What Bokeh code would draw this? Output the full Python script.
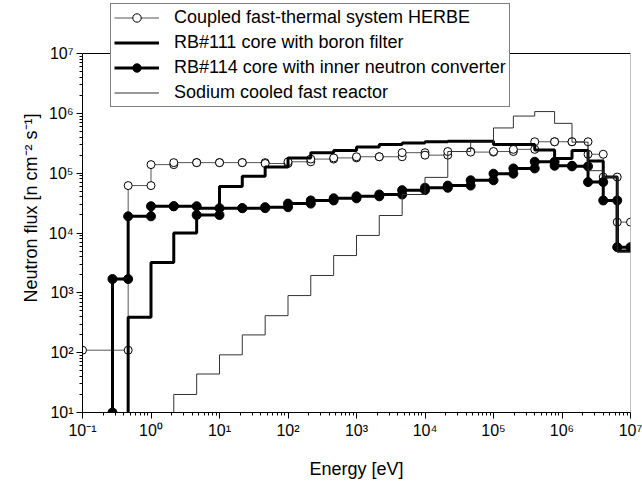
import numpy as np
from bokeh.plotting import figure
from bokeh.models import (Range1d, FixedTicker, CustomJSTickFormatter, Legend,
                          LegendItem, Span)
from bokeh.embed import file_html
from bokeh.resources import INLINE

# ---------------- data ----------------
x_major_ticks = [0.1, 1, 10, 100, 1e3, 1e4, 1e5, 1e6, 1e7]
y_major_ticks = [10, 100, 1e3, 1e4, 1e5, 1e6, 1e7]
x_lim = (0.1, 1e7)
y_lim = (10, 1e7)

# Coupled fast-thermal system HERBE (group edges [eV], group flux)
herbe_edges = [0.1, 0.464, 1, 2.15, 4.64, 10, 21.5, 46.4, 100, 215, 464, 1000,
               2150, 4640, 1e4, 2.15e4, 4.64e4, 1e5, 1.95e5, 4e5, 7.8e5, 1.4e6,
               2.4e6, 4e6, 6.4e6, 1e7]
herbe_flux = [110, 6.2e4, 1.39e5, 1.5e5, 1.5e5, 1.5e5, 1.5e5, 1.45e5, 1.55e5,
              1.72e5, 1.8e5, 1.88e5, 1.88e5, 2.2e5, 2.0e5, 2.3e5, 2.25e5, 2.3e5,
              2.5e5, 3.35e5, 3.35e5, 3.35e5, 2.07e5, 8.6e4, 1.52e4]

# RB#111 core with boron filter
rb111_edges = [0.464, 1, 2.15, 4.64, 10, 21.5, 46.4, 100, 215, 464, 1000, 2150,
               4640, 1e4, 2.15e4, 4.64e4, 1e5, 1.95e5, 4e5, 7.8e5, 1.4e6, 2.4e6,
               4e6, 6.4e6, 1e7]
rb111_flux = [390, 3.2e3, 1.0e4, 2.6e4, 6.0e4, 8.9e4, 1.27e5, 1.8e5, 2.2e5,
              2.4e5, 2.75e5, 3.0e5, 3.2e5, 3.35e5, 3.4e5, 3.4e5, 3.0e5, 3.0e5,
              2.45e5, 1.75e5, 2.4e5, 1.6e5, 8.6e4, 5.0e3]

# RB#114 core with inner neutron converter
rb114_edges = [0.274, 0.464, 1, 2.15, 4.64, 10, 21.5, 46.4, 100, 215, 464, 1000,
               2150, 4640, 1e4, 2.15e4, 4.64e4, 1e5, 1.95e5, 4e5, 7.8e5, 1.4e6,
               2.4e6, 4e6, 6.4e6, 1e7]
rb114_flux = [1.7e3, 1.9e4, 2.8e4, 2.8e4, 2.0e4, 2.6e4, 2.6e4, 2.7e4, 3.1e4,
              3.5e4, 3.8e4, 4.1e4, 4.4e4, 5.2e4, 5.7e4, 6.2e4, 7.6e4, 9.8e4,
              1.2e5, 1.55e5, 1.33e5, 1.3e5, 7.1e4, 3.5e4, 5.8e3]

# Sodium cooled fast reactor
sfr_edges = [2.15, 4.64, 10, 21.5, 46.4, 100, 215, 464, 1000, 2150, 4640, 1e4,
             2.15e4, 4.64e4, 1e5, 1.95e5, 4e5, 7.8e5, 1.4e6, 2.4e6, 4e6, 6.4e6,
             1e7]
sfr_flux = [20, 44, 92, 198, 415, 900, 1.95e3, 4.2e3, 9.1e3, 1.96e4, 4.4e4,
            8.5e4, 2.3e5, 3.3e5, 5.7e5, 9.0e5, 1.07e6, 6.8e5, 3.3e5, 1.1e5,
            8.6e4, 4.8e3]

flux_floor = 10  # curves rising from the bottom of the axis

labels = ["Coupled fast-thermal system HERBE",
          "RB#111 core with boron filter",
          "RB#114 core with inner neutron converter",
          "Sodium cooled fast reactor"]


def steps(edges, vals, floor=None):
    xs, ys = [], []
    if floor is not None:
        xs.append(edges[0])
        ys.append(floor)
    for i, v in enumerate(vals):
        xs += [edges[i], edges[i + 1]]
        ys += [v, v]
    return xs, ys


FONT = "Liberation Sans"

# frame: 548 px wide (8 decades), 359 px for the 6 y decades; extra room
# above 1e7 so that the legend can sit over the top of the axes box
frame_h = 409
decade_px = 359 / 6.0
y_top = 10 ** (np.log10(y_lim[0]) + frame_h / decade_px)

p = figure(width=642, height=482, x_axis_type="log", y_axis_type="log",
           x_range=Range1d(*x_lim), y_range=Range1d(y_lim[0], y_top),
           output_backend="svg", toolbar_location=None,
           min_border_left=82, min_border_right=12, min_border_top=3,
           min_border_bottom=482 - 3 - frame_h)
p.grid.visible = False
p.outline_line_color = None
p.background_fill_color = "white"
p.border_fill_color = "white"

hx, hy = steps(herbe_edges, herbe_flux)
r_h_line = p.line(hx, hy, line_color="#555555", line_width=1)
r_h_pts = p.scatter(hx, hy, marker="circle", size=8, fill_color="white",
                    line_color="black", line_width=1)

bx, by = steps(rb111_edges, rb111_flux, flux_floor)
r_b_line = p.line(bx, by, line_color="black", line_width=3)

cx, cy = steps(rb114_edges, rb114_flux, flux_floor)
r_c_line = p.line(cx, cy, line_color="black", line_width=3)
r_c_pts = p.scatter(cx, cy, marker="circle", size=9, fill_color="black",
                    line_color="black")

sx, sy = steps(sfr_edges, sfr_flux, flux_floor)
r_s_line = p.line(sx, sy, line_color="#333333", line_width=1)

# axes box: top (black) and right (grey) sides
p.add_layout(Span(location=y_lim[1], dimension="width", line_color="black",
                  line_width=1))
p.segment(x0=[x_lim[1]], y0=[y_lim[0]], x1=[x_lim[1]], y1=[y_lim[1]],
          line_color="#808080", line_width=1)

x_minor = [m * 10.0 ** d for d in range(-1, 7) for m in range(2, 10)]
y_minor = [m * 10.0 ** d for d in range(1, 7) for m in range(2, 10)]
p.xaxis.ticker = FixedTicker(ticks=x_major_ticks, minor_ticks=x_minor)
p.yaxis.ticker = FixedTicker(ticks=y_major_ticks, minor_ticks=y_minor)
p.yaxis.bounds = y_lim

fmt_code = """
const sup = {"-": "\u207b", "0": "\u2070", "1": "\u00b9", "2": "\u00b2",
             "3": "\u00b3", "4": "\u2074", "5": "\u2075", "6": "\u2076",
             "7": "\u2077", "8": "\u2078", "9": "\u2079"};
const e = Math.round(Math.log10(tick));
return "10" + String(e).split("").map(c => sup[c]).join("");
"""
p.xaxis.formatter = CustomJSTickFormatter(code=fmt_code)
p.yaxis.formatter = CustomJSTickFormatter(code=fmt_code)

p.xaxis.axis_label = "Energy [eV]"
p.yaxis.axis_label = "Neutron flux [n cm\u207b\u00b2 s\u207b\u00b9]"
for ax in (p.xaxis[0], p.yaxis[0]):
    ax.axis_line_color = "black"
    ax.major_tick_line_color = "black"
    ax.minor_tick_line_color = "black"
    ax.major_tick_out = 6
    ax.major_tick_in = 0
    ax.minor_tick_out = 3
    ax.minor_tick_in = 0
    ax.major_label_text_font = FONT
    ax.major_label_text_font_size = "16px"
    ax.major_label_text_color = "black"
    ax.major_label_standoff = 3
    ax.axis_label_text_font = FONT
    ax.axis_label_text_font_size = "18px"
    ax.axis_label_text_font_style = "normal"
    ax.axis_label_text_color = "black"
p.xaxis.axis_label_standoff = 17
p.yaxis.axis_label_standoff = 5

legend = Legend(items=[
    LegendItem(label=labels[0], renderers=[r_h_line, r_h_pts]),
    LegendItem(label=labels[1], renderers=[r_b_line]),
    LegendItem(label=labels[2], renderers=[r_c_line, r_c_pts]),
    LegendItem(label=labels[3], renderers=[r_s_line]),
], location=(28, 305))
legend.label_text_font = FONT
legend.label_text_font_size = "18px"
legend.label_text_color = "black"
legend.label_height = 21
legend.glyph_height = 21
legend.glyph_width = 45
legend.label_standoff = 15
legend.spacing = 4
legend.padding = 3
legend.margin = 0
legend.border_line_color = "black"
legend.border_line_width = 1
legend.background_fill_color = "white"
legend.background_fill_alpha = 1
p.add_layout(legend)

open("out.html", "w").write(file_html(p, INLINE))
